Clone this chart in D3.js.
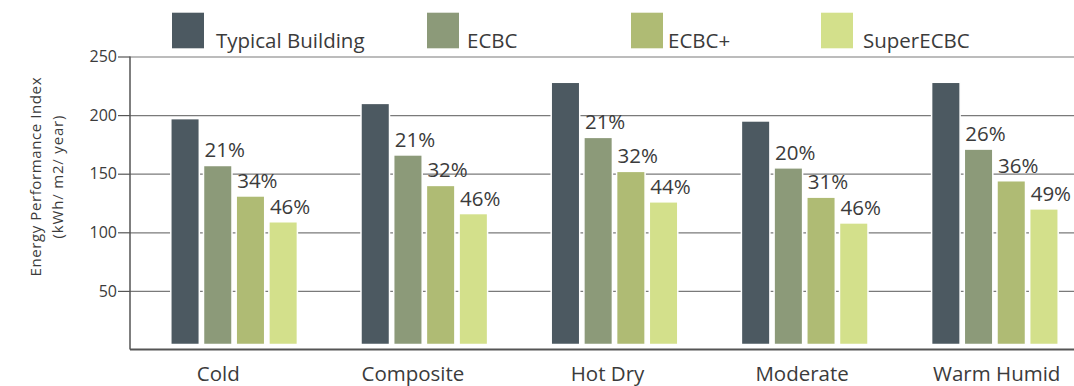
<!DOCTYPE html>
<html>
<head>
<meta charset="utf-8">
<script src="https://cdn.jsdelivr.net/npm/d3@7"></script>
<style>
  body { margin: 0; background: #fff; }
  svg text { font-family: "Open Sans", sans-serif; fill: #3b3b3b; }
</style>
</head>
<body>
<div id="chart"></div>
<script>
// Data
const categories = ['Cold', 'Composite', 'Hot Dry', 'Moderate', 'Warm Humid'];
const series = ['Typical Building', 'ECBC', 'ECBC+', 'SuperECBC'];
const typical   = [197, 210, 228, 195, 228];
const ecbc      = [157, 166, 181, 155, 171];
const ecbcPlus  = [131, 140, 152, 130, 144];
const superEcbc = [109, 116, 126, 108, 120];
const savingsEcbc      = ['21%', '21%', '21%', '20%', '26%'];
const savingsEcbcPlus  = ['34%', '32%', '32%', '31%', '36%'];
const savingsSuperEcbc = ['46%', '46%', '44%', '46%', '49%'];
const yTicks = [50, 100, 150, 200, 250];
const colors = ['#4c5961', '#8c9a79', '#afbb74', '#d3e08b'];

function createChart(containerSelector = '#chart') {
    const container = d3.select(containerSelector);
    const W = 1074, H = 386;
    const left = 130, right = W, top = 56.5, bottom = 349.5;

    const svg = container.append('svg')
        .attr('width', W)
        .attr('height', H);

    const y = d3.scaleLinear().domain([0, 250]).range([bottom, top]);

    // group placement and label placement differ slightly in the original
    const xGroup = d3.scaleBand().domain(categories).range([139, 1090]);
    const xLabel = d3.scaleBand().domain(categories).range([121, 1094]);
    const xBar = d3.scaleBand().domain(series).range([-63.3, 63.3]).paddingInner(0.128);

    // gridlines
    svg.append('g')
        .attr('transform', `translate(${left},0)`)
        .call(d3.axisLeft(y).tickValues(yTicks).tickSize(-(right - left)).tickFormat(''))
        .call(g => g.select('.domain').remove())
        .selectAll('line').attr('stroke', '#7a7a7a').attr('stroke-width', 1.2);

    // y axis ticks and labels
    svg.append('g')
        .attr('transform', `translate(${left},0)`)
        .call(d3.axisLeft(y).tickValues(yTicks).tickSize(12).tickPadding(1))
        .call(g => g.select('.domain').remove())
        .call(g => g.selectAll('line').attr('stroke', '#555').attr('stroke-width', 1.2))
        .call(g => g.selectAll('text').style('font-size', '16px').attr('fill', '#3b3b3b'));

    // y axis line
    svg.append('line')
        .attr('x1', left).attr('x2', left)
        .attr('y1', top).attr('y2', bottom)
        .attr('stroke', '#555').attr('stroke-width', 1.5);

    // bars
    const rows = categories.map((c, i) => ({
        cat: c,
        vals: [typical[i], ecbc[i], ecbcPlus[i], superEcbc[i]],
        pct: [null, savingsEcbc[i], savingsEcbcPlus[i], savingsSuperEcbc[i]]
    }));
    const baseGap = 5;

    const groups = svg.selectAll('.grp')
        .data(rows)
        .enter()
        .append('g')
        .attr('class', 'grp')
        .attr('transform', d => `translate(${xGroup(d.cat) + xGroup.bandwidth() / 2},0)`);

    groups.selectAll('rect')
        .data(d => d.vals.map((v, j) => ({ s: series[j], v, j })))
        .enter()
        .append('rect')
        .attr('x', d => xBar(d.s))
        .attr('y', d => y(d.v))
        .attr('width', xBar.bandwidth())
        .attr('height', d => y(0) - baseGap - y(d.v))
        .attr('fill', d => colors[d.j])
        .attr('stroke', '#fff')
        .attr('stroke-width', 1.5);

    groups.selectAll('.pct')
        .data(d => d.vals.map((v, j) => ({ s: series[j], v, p: d.pct[j] })).filter(d => d.p))
        .enter()
        .append('text')
        .attr('class', 'pct')
        .attr('x', d => xBar(d.s) + 1)
        .attr('y', d => y(d.v) - 8)
        .style('font-size', '20.5px')
        .text(d => d.p);

    // x axis line
    svg.append('line')
        .attr('x1', left).attr('x2', right)
        .attr('y1', bottom).attr('y2', bottom)
        .attr('stroke', '#555').attr('stroke-width', 1.8);

    // category labels
    svg.append('g')
        .attr('transform', `translate(0,${bottom})`)
        .call(d3.axisBottom(xLabel).tickSize(0).tickPadding(0))
        .call(g => g.select('.domain').remove())
        .call(g => g.selectAll('text')
            .attr('dy', null)
            .attr('y', 31.5)
            .style('font-size', '20.5px')
            .attr('fill', '#3b3b3b'));

    // y axis title
    const yTitle = svg.append('g').attr('transform', 'translate(0,177)');
    yTitle.append('text')
        .attr('transform', 'translate(41,0) rotate(-90)')
        .attr('text-anchor', 'middle')
        .attr('textLength', 199)
        .attr('lengthAdjust', 'spacing')
        .style('font-size', '15px')
        .text('Energy Performance Index');
    yTitle.append('text')
        .attr('transform', 'translate(63,0) rotate(-90)')
        .attr('text-anchor', 'middle')
        .attr('textLength', 123)
        .attr('lengthAdjust', 'spacing')
        .style('font-size', '15px')
        .text('(kWh/ m2/ year)');

    // legend
    const legendX = [172, 427, 631, 821];
    const legendTextX = [216, 467, 668, 863];
    const legend = svg.selectAll('.leg')
        .data(series)
        .enter()
        .append('g')
        .attr('class', 'leg');
    legend.append('rect')
        .attr('x', (d, i) => legendX[i])
        .attr('y', 12.7)
        .attr('width', 32)
        .attr('height', 35.6)
        .attr('fill', (d, i) => colors[i]);
    legend.append('text')
        .attr('x', (d, i) => legendTextX[i])
        .attr('y', 47.5)
        .style('font-size', '20.5px')
        .text(d => d);
}

createChart();
</script>
</body>
</html>
